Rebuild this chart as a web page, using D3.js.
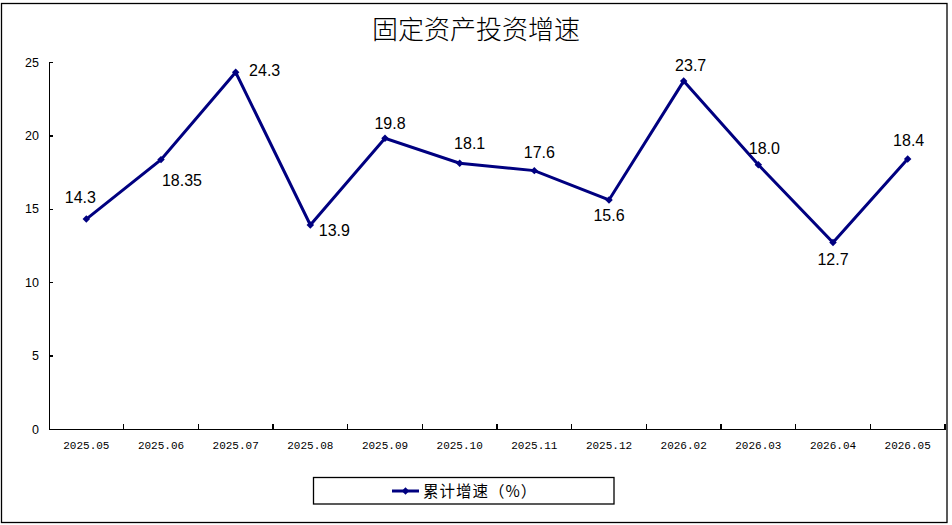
<!DOCTYPE html>
<html lang="zh">
<head>
<meta charset="UTF-8">
<script src="https://d3js.org/d3.v7.min.js"></script>
<title>固定资产投资增速</title>
<style>
    body { margin: 0; background: #fff; }
    .title { font-family: "Noto Sans CJK SC", sans-serif; font-size: 26px; font-weight: 300; fill: #000; }
    .y-axis text { font-family: "Liberation Sans", Arial, sans-serif; font-size: 12.5px; fill: #000; }
    .x-axis text { font-family: "Liberation Mono", monospace; font-size: 11px; fill: #000; }
    .axis path, .axis line { stroke: #000; stroke-width: 1.3px; shape-rendering: crispEdges; }
    .lbl { font-family: "Liberation Sans", Arial, sans-serif; font-size: 16px; fill: #000; }
    .legend text { font-family: "Noto Sans CJK SC", sans-serif; font-size: 15.5px; fill: #000; }
</style>
</head>
<body>
<svg id="chart" width="952" height="525"></svg>
<script>
    // data
    var months = ["2025.05","2025.06","2025.07","2025.08","2025.09","2025.10",
                  "2025.11","2025.12","2026.02","2026.03","2026.04","2026.05"];
    var growth = [14.3, 18.35, 24.3, 13.9, 19.8, 18.1, 17.6, 15.6, 23.7, 18.0, 12.7, 18.4];
    var labels = ["14.3","18.35","24.3","13.9","19.8","18.1","17.6","15.6","23.7","18.0","12.7","18.4"];
    var yTicks = [0, 5, 10, 15, 20, 25];
    var seriesName = "累计增速（%）";

    // where each data label sits relative to its point
    var labelOffset = [[-6,-21.5],[21,21],[29,-2.5],[24,5],[5,-15],[10,-20],
                       [5,-18.5],[0,15],[7,-16],[6,-16.5],[0,17],[1,-19]];

    var svg = d3.select("#chart");
    var color = "#000080";

    svg.append("rect")
        .attr("x", 1.5).attr("y", 3.5).attr("width", 945.5).attr("height", 519)
        .attr("fill", "#fff").attr("stroke", "#000").attr("stroke-width", 1.3);

    svg.append("text").attr("class", "title")
        .attr("x", 476).attr("y", 39).attr("text-anchor", "middle")
        .text("固定资产投资增速");

    var x = d3.scaleBand().domain(months).range([49, 945]);
    var y = d3.scaleLinear().domain([0, 25]).range([429, 62]);

    // y axis, ticks pointing inward
    svg.append("g").attr("class", "axis y-axis")
        .attr("transform", "translate(49,0)")
        .call(d3.axisLeft(y).tickValues(yTicks).tickSize(-4).tickPadding(10).tickSizeOuter(0));

    // x axis: labels at band centres, ticks at band edges
    var gx = svg.append("g").attr("class", "axis x-axis")
        .attr("transform", "translate(0,429)")
        .call(d3.axisBottom(x).tickSize(0).tickPadding(12).tickSizeOuter(0));
    gx.selectAll(".tick line").remove();
    gx.selectAll("line.edge")
        .data(months)
        .enter().append("line").attr("class", "edge")
        .attr("x1", d => x(d) + x.bandwidth()).attr("x2", d => x(d) + x.bandwidth())
        .attr("y1", 0).attr("y2", -5);

    var pts = months.map((m, i) => ({m: m, v: growth[i], t: labels[i], o: labelOffset[i]}));

    var line = d3.line()
        .x(d => x(d.m) + x.bandwidth() / 2)
        .y(d => y(d.v));

    svg.append("path")
        .datum(pts)
        .attr("d", line)
        .attr("fill", "none")
        .attr("stroke", color)
        .attr("stroke-width", 3)
        .attr("stroke-linejoin", "miter");

    // square turned 45deg = even diamond
    var diamond = d3.symbol(d3.symbolSquare, 28);
    svg.selectAll("path.mark")
        .data(pts)
        .enter().append("path").attr("class", "mark")
        .attr("d", diamond)
        .attr("fill", color)
        .attr("transform", d => `translate(${x(d.m) + x.bandwidth() / 2},${y(d.v)}) rotate(45)`);

    svg.selectAll("text.lbl")
        .data(pts)
        .enter().append("text").attr("class", "lbl")
        .attr("x", d => x(d.m) + x.bandwidth() / 2 + d.o[0])
        .attr("y", d => y(d.v) + d.o[1])
        .attr("dy", "0.36em")
        .attr("text-anchor", "middle")
        .text(d => d.t);

    // legend
    var lg = svg.append("g").attr("class", "legend");
    lg.append("rect")
        .attr("x", 313.5).attr("y", 477.5).attr("width", 300.5).attr("height", 26.5)
        .attr("fill", "#fff").attr("stroke", "#000").attr("stroke-width", 1.3);
    lg.append("line")
        .attr("x1", 392).attr("x2", 419).attr("y1", 491).attr("y2", 491)
        .attr("stroke", color).attr("stroke-width", 3);
    lg.append("path")
        .attr("d", diamond)
        .attr("fill", color)
        .attr("transform", "translate(405.5,491) rotate(45)");
    lg.append("text")
        .attr("x", 423).attr("y", 491).attr("dy", "0.36em")
        .attr("letter-spacing", "1px")
        .text(seriesName);
</script>
</body>
</html>
